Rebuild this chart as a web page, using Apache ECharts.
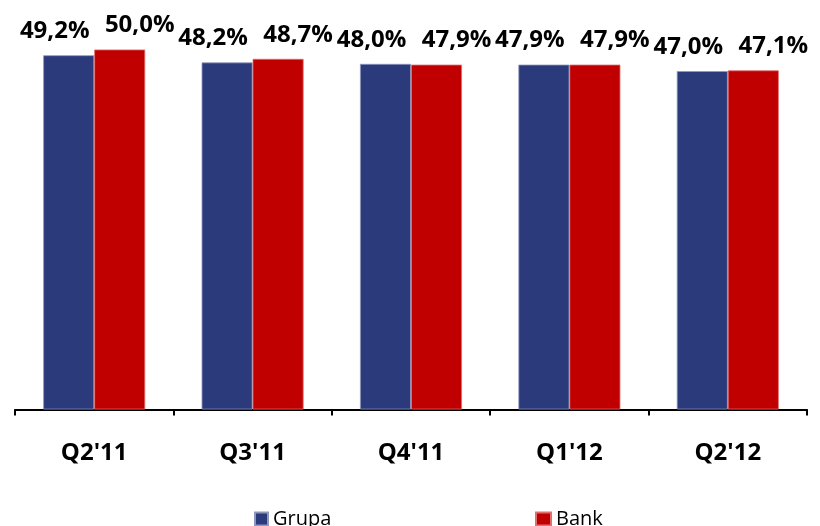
<!DOCTYPE html>
<html>
<head>
<meta charset="utf-8">
<script src="https://cdn.jsdelivr.net/npm/echarts@6/dist/echarts.min.js"></script>
<style>
html,body{margin:0;padding:0;background:#fff;}
#chart{width:820px;height:526px;}
</style>
</head>
<body>
<div id="chart"></div>
<script>
var categories = ["Q2'11", "Q3'11", "Q4'11", "Q1'12", "Q2'12"];
var grupa = [49.2, 48.2, 48.0, 47.9, 47.0];
var bank = [50.0, 48.7, 47.9, 47.9, 47.1];
var seriesNames = ['Grupa', 'Bank'];

var chart = echarts.init(document.getElementById('chart'));
var fontFam = 'Open Sans, Lato, sans-serif';
function fmt(p) { return p.value.toFixed(1).replace('.', ',') + '%'; }

chart.setOption({
  animation: false,
  backgroundColor: '#ffffff',
  grid: { left: 15, right: 13, top: 49.5, bottom: 116.5, containLabel: false },
  legend: [
    { data: [seriesNames[0]], left: 249, top: 504, itemWidth: 13, itemHeight: 13, icon: 'rect',
      textStyle: { fontFamily: fontFam, fontSize: 20, color: '#000' }, itemGap: 0 },
    { data: [seriesNames[1]], left: 530, top: 504, itemWidth: 15, itemHeight: 13, icon: 'rect',
      textStyle: { fontFamily: fontFam, fontSize: 20, color: '#000' }, itemGap: 0 }
  ],
  xAxis: {
    type: 'category',
    data: categories,
    axisLine: { lineStyle: { color: '#000', width: 2 } },
    axisTick: { show: true, length: 6, lineStyle: { color: '#000', width: 2 } },
    axisLabel: { fontFamily: fontFam, fontWeight: 'bold', fontSize: 24, color: '#000', margin: 32 }
  },
  yAxis: {
    type: 'value', min: 0, max: 50, show: false,
    splitLine: { show: false }
  },
  series: [
    {
      name: seriesNames[0], type: 'bar', data: grupa,
      barWidth: 51, barGap: '0%',
      itemStyle: { color: '#2B3A7B', borderColor: '#8f97bd', borderWidth: 0.8 },
      label: { show: true, position: 'top', distance: 12, offset: [-14, 0], formatter: fmt,
        fontFamily: fontFam, fontWeight: 'bold', fontSize: 24, color: '#000' }
    },
    {
      name: seriesNames[1], type: 'bar', data: bank,
      barWidth: 51,
      itemStyle: { color: '#C00000', borderColor: '#e07070', borderWidth: 0.8 },
      label: { show: true, position: 'top', distance: 12, offset: [20, 0], formatter: fmt,
        fontFamily: fontFam, fontWeight: 'bold', fontSize: 24, color: '#000' }
    }
  ]
});
</script>
</body>
</html>
